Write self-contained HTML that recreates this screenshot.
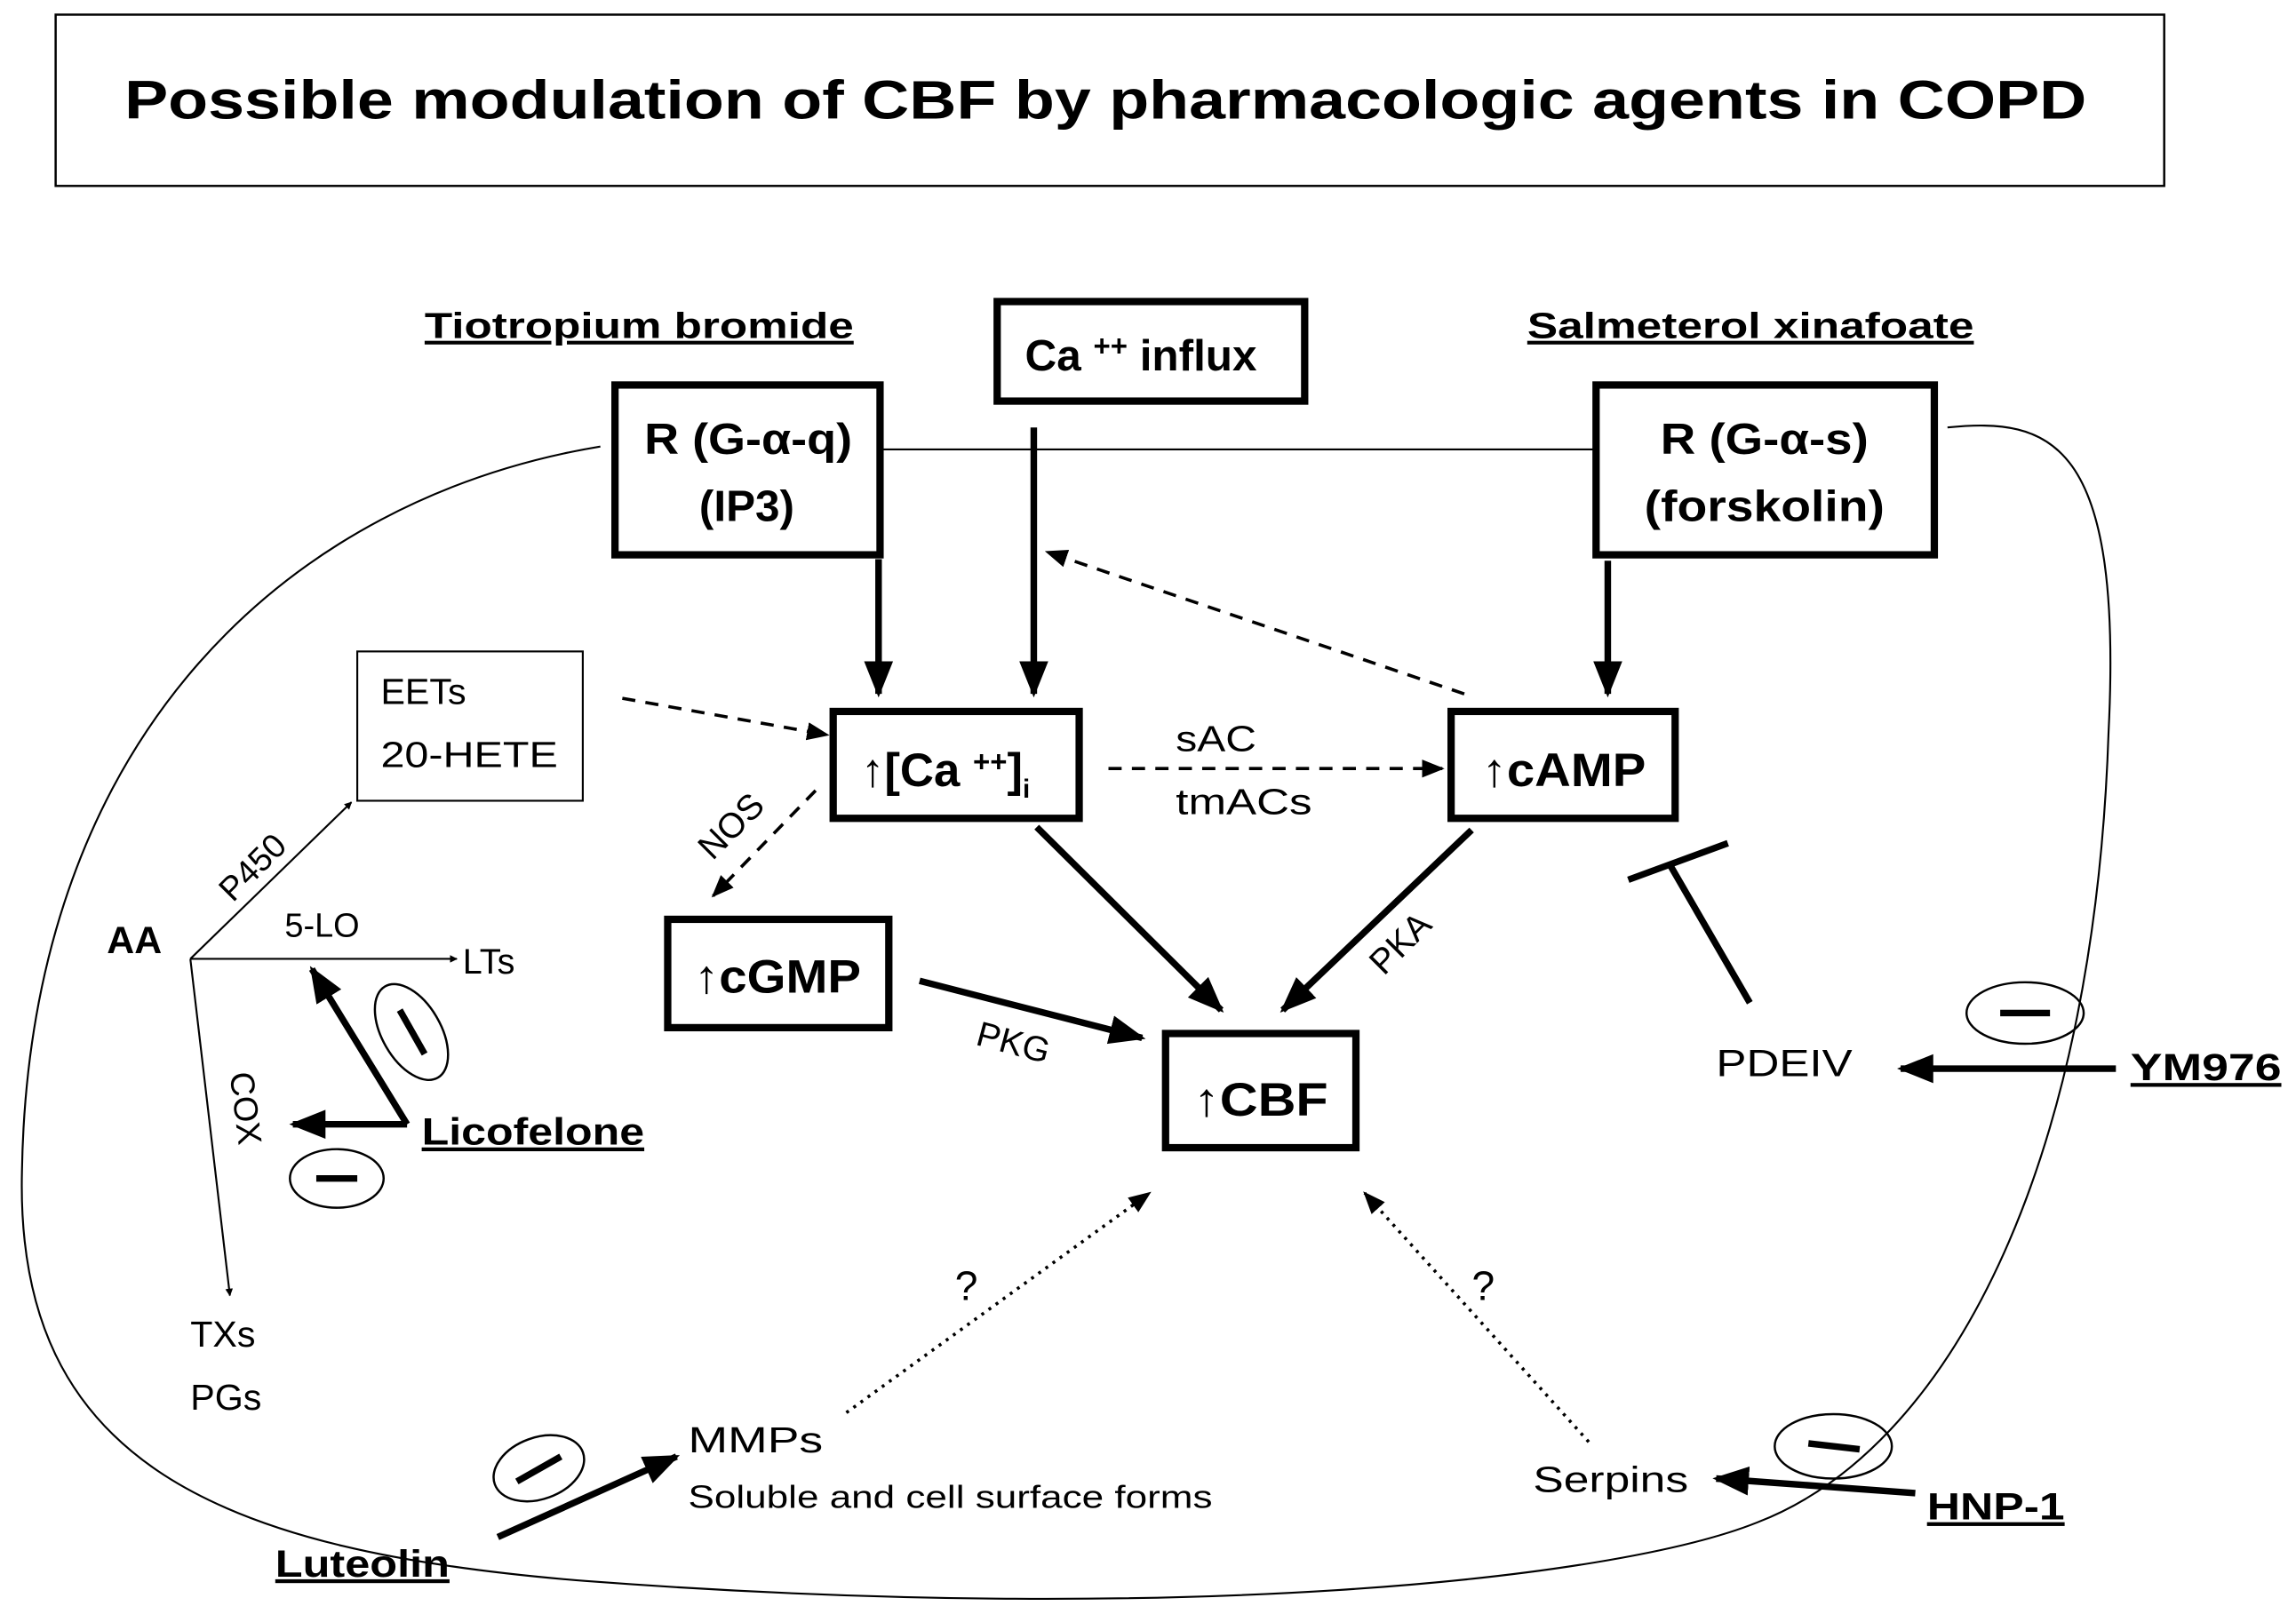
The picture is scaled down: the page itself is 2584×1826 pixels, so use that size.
<!DOCTYPE html>
<html><head><meta charset="utf-8"><style>
html,body{margin:0;padding:0;background:#fff}
svg{display:block}
text{font-family:"Liberation Sans",Arial,sans-serif;fill:#000}
.b{font-weight:bold}
</style></head><body>
<svg width="2584" height="1826" viewBox="0 0 1568 1108" preserveAspectRatio="none" xmlns="http://www.w3.org/2000/svg">
<defs>
<marker id="ah" viewBox="0 0 10 10" refX="9" refY="5" markerWidth="4" markerHeight="4" orient="auto"><path d="M0,0 L10,5 L0,10 z"/></marker>
<marker id="at" viewBox="0 0 10 10" refX="9" refY="5" markerWidth="5.5" markerHeight="5.5" orient="auto"><path d="M0,1 L10,5 L0,9 z"/></marker>
<marker id="ad" viewBox="0 0 10 10" refX="9" refY="5" markerWidth="7" markerHeight="7" orient="auto"><path d="M0,1 L10,5 L0,9 z"/></marker>
</defs>
<rect x="38" y="10" width="1440" height="117" fill="none" stroke="#000" stroke-width="1.5"/>
<text x="85" y="81" class="b" font-size="37" textLength="1340" lengthAdjust="spacingAndGlyphs">Possible modulation of CBF by pharmacologic agents in COPD</text>

<path d="M410,305 C200,340 20,500 15,800 C10,1000 150,1060 400,1080 C800,1110 1100,1080 1200,1040 C1330,990 1430,800 1440,500 C1450,300 1400,285 1330,292" fill="none" stroke="#000" stroke-width="1.3"/>
<line x1="602" y1="307" x2="1088" y2="307" stroke="#000" stroke-width="1.3"/>

<text x="290" y="231" class="b" font-size="25" text-decoration="underline" textLength="293" lengthAdjust="spacingAndGlyphs">Tiotropium bromide</text>
<text x="1043" y="231" class="b" font-size="25" text-decoration="underline" textLength="305" lengthAdjust="spacingAndGlyphs">Salmeterol xinafoate</text>

<g fill="#fff" stroke="#000" stroke-width="5">
<rect x="681" y="206" width="210" height="68"/>
<rect x="420" y="263" width="181" height="116"/>
<rect x="1090" y="263" width="231" height="116"/>
<rect x="569" y="486" width="168" height="73"/>
<rect x="991" y="486" width="153" height="73"/>
<rect x="456" y="628" width="151" height="74"/>
<rect x="796" y="706" width="130" height="78"/>
</g>
<rect x="244" y="445" width="154" height="102" fill="none" stroke="#000" stroke-width="1.3"/>

<text x="700" y="253" class="b" font-size="30">Ca <tspan font-size="20" dy="-10">++</tspan><tspan dy="10"> influx</tspan></text>
<text x="440" y="310" class="b" font-size="30" textLength="142" lengthAdjust="spacingAndGlyphs">R (G-α-q)</text>
<text x="510" y="356" class="b" font-size="30" text-anchor="middle">(IP3)</text>
<text x="1134" y="310" class="b" font-size="30" textLength="142" lengthAdjust="spacingAndGlyphs">R (G-α-s)</text>
<text x="1123" y="356" class="b" font-size="30" textLength="164" lengthAdjust="spacingAndGlyphs">(forskolin)</text>
<text x="588" y="537" class="b" font-size="32">↑[Ca <tspan font-size="20" dy="-10">++</tspan><tspan dy="10">]</tspan><tspan font-size="18" dy="8">i</tspan></text>
<text x="1012" y="537" class="b" font-size="32" textLength="112" lengthAdjust="spacingAndGlyphs">↑cAMP</text>
<text x="474" y="678" class="b" font-size="32" textLength="114" lengthAdjust="spacingAndGlyphs">↑cGMP</text>
<text x="815" y="762" class="b" font-size="32" textLength="92" lengthAdjust="spacingAndGlyphs">↑CBF</text>
<text x="260" y="481" font-size="25">EETs</text>
<text x="260" y="524" font-size="25" textLength="121" lengthAdjust="spacingAndGlyphs">20-HETE</text>

<g stroke="#000" stroke-width="4.5" fill="none" marker-end="url(#at)">
<line x1="600" y1="382" x2="600" y2="474"/>
<line x1="706" y1="292" x2="706" y2="474"/>
<line x1="1098" y1="383" x2="1098" y2="474"/>
<line x1="708" y1="565" x2="834" y2="690"/>
<line x1="1005" y1="567" x2="876" y2="690"/>
<line x1="628" y1="670" x2="780" y2="709"/>
<line x1="1445" y1="730" x2="1298" y2="730"/>
<line x1="278" y1="768" x2="213" y2="662"/>
<line x1="278" y1="768" x2="200" y2="768"/>
<line x1="340" y1="1050" x2="462" y2="995"/>
<line x1="1308" y1="1020" x2="1172" y2="1010"/>
</g>
<g stroke="#000" stroke-width="2.2" fill="none" stroke-dasharray="9,7" marker-end="url(#ad)">
<line x1="1000" y1="474" x2="715" y2="377"/>
<line x1="425" y1="477" x2="565" y2="502"/>
<line x1="757" y1="525" x2="985" y2="525"/>
<line x1="557" y1="540" x2="487" y2="612"/>
</g>
<g stroke="#000" stroke-width="2.2" fill="none" stroke-dasharray="2,4" marker-end="url(#ad)">
<line x1="578" y1="965" x2="785" y2="815"/>
<line x1="1085" y1="985" x2="932" y2="815"/>
</g>
<text x="803" y="513" font-size="25" textLength="55" lengthAdjust="spacingAndGlyphs">sAC</text>
<text x="803" y="556" font-size="25" textLength="93" lengthAdjust="spacingAndGlyphs">tmACs</text>
<text x="505" y="570" font-size="24" text-anchor="middle" transform="rotate(-45 505 570)">NOS</text>
<text x="690" y="720" font-size="24" text-anchor="middle" transform="rotate(15 690 720)">PKG</text>
<text x="962" y="650" font-size="24" text-anchor="middle" transform="rotate(-45 962 650)">PKA</text>

<g stroke="#000" stroke-width="4.5">
<line x1="1195" y1="685" x2="1140" y2="590"/>
<line x1="1112" y1="601" x2="1180" y2="576"/>
</g>
<text x="1172" y="735" font-size="26" textLength="93" lengthAdjust="spacingAndGlyphs">PDEIV</text>
<text x="1455" y="738" class="b" font-size="26" text-decoration="underline" textLength="103" lengthAdjust="spacingAndGlyphs">YM976</text>

<text x="73" y="651" class="b" font-size="26">AA</text>
<g stroke="#000" stroke-width="1.3" fill="none" marker-end="url(#ah)">
<line x1="130" y1="655" x2="240" y2="548"/>
<line x1="130" y1="655" x2="312" y2="655"/>
<line x1="130" y1="655" x2="157" y2="885"/>
</g>
<text x="178" y="598" font-size="23" text-anchor="middle" transform="rotate(-45 178 598)">P450</text>
<text x="220" y="640" font-size="23" text-anchor="middle">5-LO</text>
<text x="316" y="665" font-size="24">LTs</text>
<text x="160" y="758" font-size="23" text-anchor="middle" transform="rotate(83 160 758)">COX</text>
<text x="288" y="782" class="b" font-size="26" text-decoration="underline" textLength="152" lengthAdjust="spacingAndGlyphs">Licofelone</text>
<text x="130" y="920" font-size="25">TXs</text>
<text x="130" y="963" font-size="25">PGs</text>
<text x="660" y="888" font-size="28" text-anchor="middle">?</text>
<text x="1013" y="888" font-size="28" text-anchor="middle">?</text>
<text x="470" y="992" font-size="25" textLength="92" lengthAdjust="spacingAndGlyphs">MMPs</text>
<text x="470" y="1030" font-size="22" textLength="358" lengthAdjust="spacingAndGlyphs">Soluble and cell surface forms</text>
<text x="188" y="1077" class="b" font-size="26" text-decoration="underline" textLength="119" lengthAdjust="spacingAndGlyphs">Luteolin</text>
<text x="1047" y="1019" font-size="25" textLength="106" lengthAdjust="spacingAndGlyphs">Serpins</text>
<text x="1316" y="1038" class="b" font-size="26" text-decoration="underline" textLength="94" lengthAdjust="spacingAndGlyphs">HNP-1</text>

<g fill="none" stroke="#000" stroke-width="1.5">
<ellipse cx="281" cy="705" rx="20" ry="36" transform="rotate(-30 281 705)"/>
<ellipse cx="230" cy="805" rx="32" ry="20"/>
<ellipse cx="368" cy="1003" rx="32" ry="21" transform="rotate(-20 368 1003)"/>
<ellipse cx="1383" cy="692" rx="40" ry="21"/>
<ellipse cx="1252" cy="988" rx="40" ry="22"/>
</g>
<g stroke="#000" stroke-width="4.5">
<line x1="273" y1="690" x2="290" y2="720"/>
<line x1="216" y1="805" x2="244" y2="805"/>
<line x1="353" y1="1012" x2="383" y2="995"/>
<line x1="1366" y1="692" x2="1400" y2="692"/>
<line x1="1235" y1="986" x2="1270" y2="990"/>
</g>
</svg>
</body></html>
